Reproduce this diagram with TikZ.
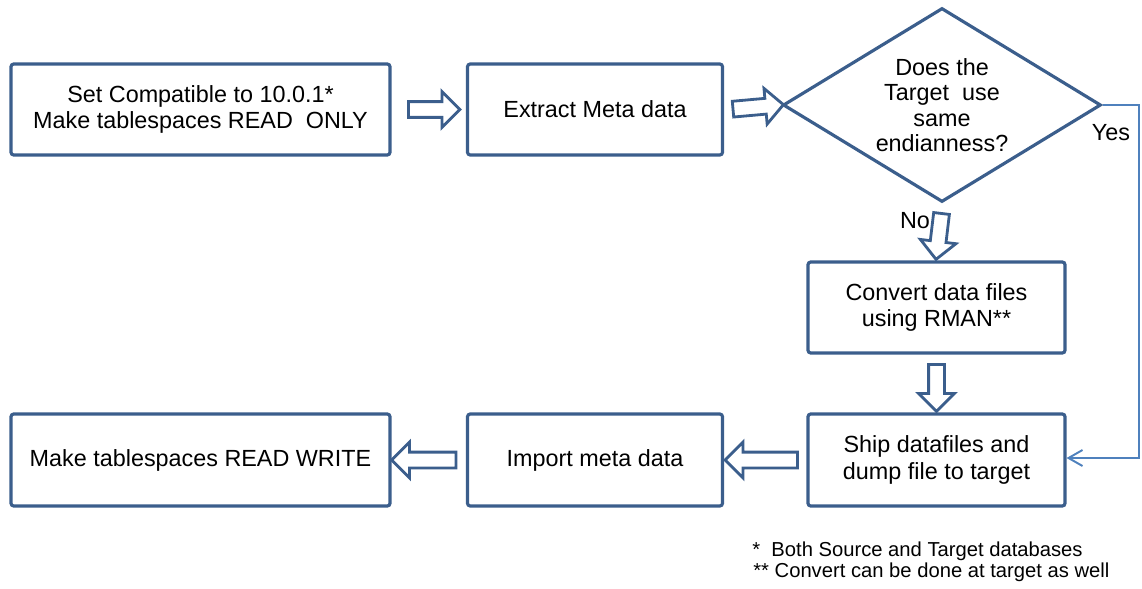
\documentclass[tikz,border=0pt]{standalone}
\usepackage{fontspec}
\setmainfont{Liberation Sans}
\usetikzlibrary{shapes.geometric,shapes.arrows,arrows.meta,calc}
\definecolor{boxblue}{HTML}{3B5E8C}
\definecolor{linkblue}{HTML}{4F81BD}
\tikzset{
  stepbox/.style={draw=boxblue, line width=1.8pt, rounded corners=1.5pt, fill=white,
    align=center, inner sep=0pt, font=\fontsize{13.3}{15.3}\selectfont},
  fatarrow/.style={to path={
    let \p1=(\tikztostart), \p2=(\tikztotarget),
        \n1={veclen(\x2-\x1,\y2-\y1)} in
    (\tikztostart) -- (\tikztotarget)
    node[midway, sloped, allow upside down, single arrow, draw=boxblue, fill=white,
         line width=1.6pt, inner xsep=0pt, inner ysep=0.13cm,
         single arrow head extend=.2cm, single arrow tip angle=90,
         minimum height={\n1*1pt}] {}}},
  note/.style={anchor=west, inner sep=0pt, font=\fontsize{11.5}{13}\selectfont}
}
\begin{document}
\begin{tikzpicture}[x=0.02cm, y=-0.02cm]
\useasboundingbox (0,0) rectangle (1142,588);
% boxes
\node[stepbox, minimum width=7.58cm, minimum height=1.82cm] (set) at (200.5,109.5)
  {Set Compatible to 10.0.1*\\Make tablespaces READ\ \ ONLY};
\node[stepbox, minimum width=5.1cm, minimum height=1.82cm] (extract) at (595,109.5)
  {Extract Meta data};
\node[draw=boxblue, line width=1.8pt, diamond, shape aspect=1.64, inner sep=0pt,
  minimum width=6.36cm, minimum height=3.88cm, align=center,
  font=\fontsize{13.3}{14.4}\selectfont] (dia) at (942,105)
  {Does the\\Target\ \ use\\same\\endianness?};
\node[stepbox, minimum width=5.14cm, minimum height=1.82cm] (convert) at (936.5,307.5)
  {Convert data files\\using RMAN**};
\node[stepbox, minimum width=5.14cm, minimum height=1.84cm] (ship) at (936.5,460)
  {Ship datafiles and\\dump file to target};
\node[stepbox, minimum width=5.1cm, minimum height=1.84cm] (import) at (595,460)
  {Import meta data};
\node[stepbox, minimum width=7.58cm, minimum height=1.84cm] (make) at (200.5,460)
  {Make tablespaces READ WRITE};
% fat arrows
\path[fatarrow] ([xshift=0.26cm]set.east) to ([xshift=-0.2cm]extract.west);
\path[fatarrow] ([xshift=0.1cm]extract.east) to ([xshift=-0.04cm]dia.west);
\path[fatarrow] ([yshift=-0.12cm]dia.south) to ([yshift=0.1cm]convert.north);
\path[fatarrow] ([yshift=-0.12cm]convert.south) to ([yshift=0.1cm]ship.north);
\path[fatarrow] ([xshift=-0.1cm]ship.west) to ([xshift=0.1cm]import.east);
\path[fatarrow] ([xshift=-0.12cm]import.west) to ([xshift=0.08cm]make.east);
% yes branch
\draw[linkblue, line width=1.1pt, -{Straight Barb[length=0.28cm, width=0.32cm]}]
  (dia.east) -- ++(36,0) |- ([yshift=0.04cm]ship.east);
\node[font=\fontsize{13.3}{15}\selectfont] (yes) at (1111,133) {Yes};
\node[font=\fontsize{13.3}{15}\selectfont] (no) at (915,221) {No};
% footnotes
\node[note] (n1) at (752,551) {*\ \ Both Source and Target databases};
\node[note] (n2) at (753,572) {** Convert can be done at target as well};
\end{tikzpicture}
\end{document}
